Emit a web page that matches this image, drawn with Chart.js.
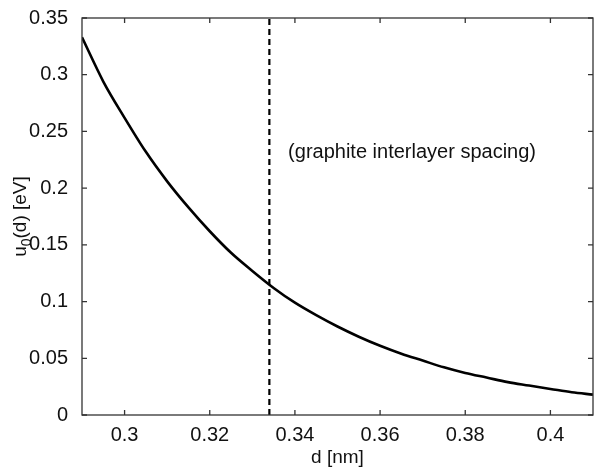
<!DOCTYPE html>
<html>
<head>
<meta charset="utf-8">
<script src="https://cdn.jsdelivr.net/npm/chart.js@4"></script>
<style>
  html, body { margin: 0; padding: 0; background: #fff; }
  #wrap { width: 594px; height: 473px; }
</style>
</head>
<body>
<div id="wrap"><canvas id="chart"></canvas></div>
<script>
// d [nm] va u0(d) [eV] doc tu hinh
const dValues = [0.29, 0.295, 0.30, 0.305, 0.31, 0.315, 0.32, 0.325, 0.33, 0.335,
                 0.34, 0.345, 0.35, 0.355, 0.36, 0.365, 0.37, 0.375, 0.38, 0.385,
                 0.39, 0.395, 0.40, 0.405, 0.41];
const uValues = [0.333, 0.294, 0.262, 0.232, 0.206, 0.183, 0.162, 0.143, 0.127, 0.112,
                 0.099, 0.088, 0.078, 0.069, 0.061, 0.054, 0.048, 0.042, 0.037, 0.033,
                 0.029, 0.026, 0.023, 0.020, 0.018];
// duong dut net: khoang cach lop graphite
const spacingX = 0.334;
const spacingY = [0, 0.35];
const xTicks = [0.3, 0.32, 0.34, 0.36, 0.38, 0.4];
const xTickLabels = ['0.3', '0.32', '0.34', '0.36', '0.38', '0.4'];
const yTicks = [0, 0.05, 0.1, 0.15, 0.2, 0.25, 0.3, 0.35];
const yTickLabels = ['0', '0.05', '0.1', '0.15', '0.2', '0.25', '0.3', '0.35'];
const noteText = '(graphite interlayer spacing)';

const FONT = '"Liberation Sans", Arial, sans-serif';
const AXIS = '#333';

// ve khung, vach chia huong vao trong, nhan truc y co chi so duoi, chu thich
const boxPlugin = {
  id: 'box',
  afterDatasetsDraw(chart) {
    const { ctx, chartArea: a, scales } = chart;
    ctx.save();
    ctx.strokeStyle = AXIS;
    ctx.lineWidth = 1.3;
    ctx.strokeRect(a.left, a.top, a.right - a.left, a.bottom - a.top);
    const t = 5;
    ctx.beginPath();
    xTicks.forEach(v => {
      const px = scales.x.getPixelForValue(v);
      ctx.moveTo(px, a.bottom); ctx.lineTo(px, a.bottom - t);
      ctx.moveTo(px, a.top); ctx.lineTo(px, a.top + t);
    });
    yTicks.forEach(v => {
      const py = scales.y.getPixelForValue(v);
      ctx.moveTo(a.left, py); ctx.lineTo(a.left + t, py);
      ctx.moveTo(a.right, py); ctx.lineTo(a.right - t, py);
    });
    ctx.stroke();

    // chu thich
    ctx.fillStyle = '#111';
    ctx.font = '20px ' + FONT;
    ctx.textBaseline = 'middle';
    ctx.textAlign = 'left';
    ctx.fillText(noteText, scales.x.getPixelForValue(0.3384), scales.y.getPixelForValue(0.2317));

    // nhan truc y: u_0(d) [eV]
    ctx.translate(21, (a.top + a.bottom) / 2);
    ctx.rotate(-Math.PI / 2);
    const big = '19px ' + FONT, small = '14px ' + FONT;
    ctx.font = big; const w1 = ctx.measureText('u').width;
    ctx.font = small; const w2 = ctx.measureText('0').width;
    ctx.font = big; const w3 = ctx.measureText('(d) [eV]').width;
    let x0 = -(w1 + w2 + w3) / 2;
    ctx.textAlign = 'left';
    ctx.font = big; ctx.fillText('u', x0, 0);
    ctx.font = small; ctx.fillText('0', x0 + w1, 6);
    ctx.font = big; ctx.fillText('(d) [eV]', x0 + w1 + w2, 0);
    ctx.restore();
  }
};

new Chart(document.getElementById('chart'), {
  type: 'scatter',
  data: {
    datasets: [
      {
        data: dValues.map((d, i) => ({ x: d, y: uValues[i] })),
        showLine: true,
        borderColor: '#000',
        borderWidth: 2.6,
        pointRadius: 0,
        tension: 0.4,
        cubicInterpolationMode: 'monotone'
      },
      {
        data: spacingY.map(y => ({ x: spacingX, y: y })),
        showLine: true,
        borderColor: '#000',
        borderWidth: 2.2,
        borderDash: [6, 4],
        pointRadius: 0
      }
    ]
  },
  options: {
    responsive: true,
    maintainAspectRatio: false,
    animation: false,
    layout: { padding: { top: 10, right: 1, left: 0, bottom: 0 } },
    plugins: { legend: { display: false }, tooltip: { enabled: false } },
    scales: {
      x: {
        type: 'linear',
        min: 0.29, max: 0.41,
        afterBuildTicks: s => { s.ticks = xTicks.map(v => ({ value: v })); },
        afterFit: s => { s.height = 58; },
        grid: { display: false },
        border: { display: false },
        ticks: {
          color: '#111', padding: 0,
          font: { family: FONT, size: 20 },
          callback: (v) => xTickLabels[xTicks.findIndex(t => Math.abs(t - v) < 1e-9)]
        },
        title: {
          display: true, text: 'd [nm]', color: '#111',
          font: { family: FONT, size: 19 }, padding: { top: 0, bottom: 4 }
        }
      },
      y: {
        type: 'linear',
        min: 0, max: 0.35,
        afterBuildTicks: s => { s.ticks = yTicks.map(v => ({ value: v })); },
        afterFit: s => { s.width = 82; },
        grid: { display: false },
        border: { display: false },
        ticks: {
          color: '#111', padding: 6,
          font: { family: FONT, size: 20 },
          callback: (v) => yTickLabels[yTicks.findIndex(t => Math.abs(t - v) < 1e-9)]
        }
      }
    }
  },
  plugins: [boxPlugin]
});
</script>
</body>
</html>
